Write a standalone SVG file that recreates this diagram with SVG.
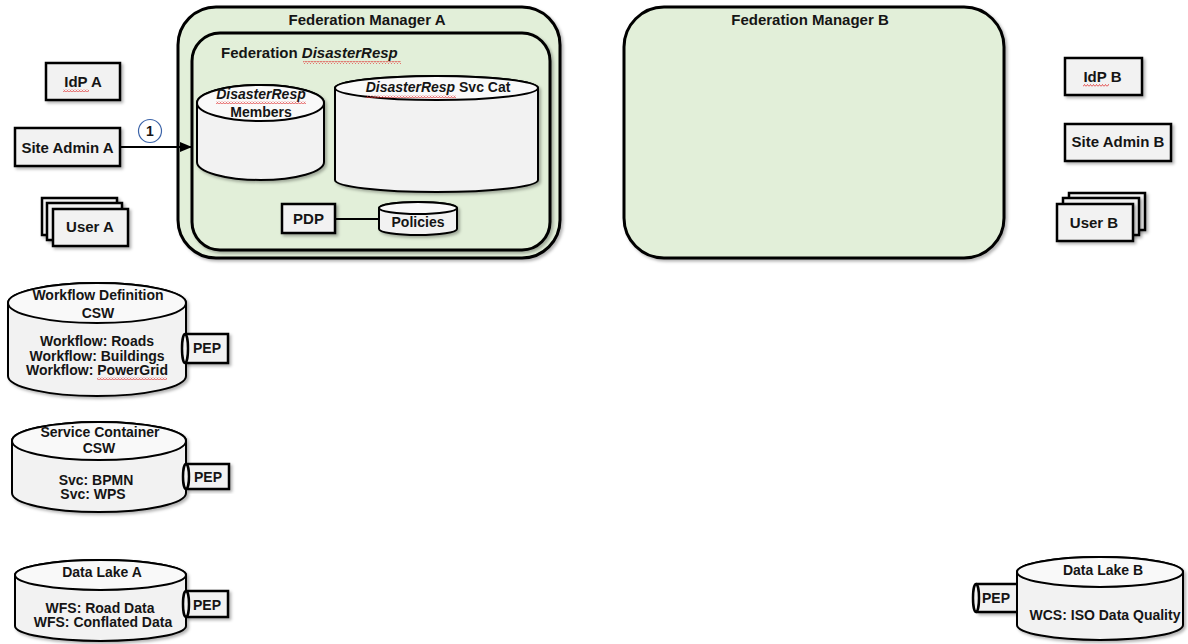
<svg xmlns="http://www.w3.org/2000/svg" width="1188" height="644" viewBox="0 0 1188 644">
  <style>
    text { font-family: "Liberation Sans", Arial, sans-serif; font-weight: bold; fill: #151515; }
    .t15 { font-size: 15px; }
    .t14 { font-size: 14px; }
    .mid { text-anchor: middle; }
    .it { font-style: italic; }
    .mgr { fill: #e2efd9; stroke: #000; stroke-width: 3; }
    .box { fill: #f2f2f2; stroke: #000; stroke-width: 2.5; }
    .cyl { fill: #f2f2f2; stroke: #000; stroke-width: 2; }
    .cap { fill: #f9f9f9; stroke: #000; stroke-width: 2; }
    .wire { stroke: #000; stroke-width: 2; fill: none; }
    .sq { fill: url(#squig); }
  </style>
  <defs>
    <filter id="sh" x="-10%" y="-10%" width="130%" height="130%">
      <feDropShadow dx="2" dy="2" stdDeviation="1.5" flood-color="#000" flood-opacity="0.3"/>
    </filter>
    <marker id="arr" markerWidth="12" markerHeight="10" refX="12" refY="5" orient="auto" markerUnits="userSpaceOnUse">
      <path d="M0,0 L12,5 L0,10 Z" fill="#000"/>
    </marker>
    <pattern id="squig" width="3" height="3" patternUnits="userSpaceOnUse">
      <path d="M0,2.5 L1.5,0.5 L3,2.5" fill="none" stroke="#e03030" stroke-width="0.8"/>
    </pattern>
  </defs>

  <!-- Federation Manager A -->
  <g id="fed-manager-a">
    <rect class="mgr" x="178" y="7" width="382" height="251" rx="38" filter="url(#sh)"/>
    <text class="t15 mid" x="367" y="25">Federation Manager A</text>
  </g>

  <g id="federation-disasterresp">
    <rect class="mgr" x="192" y="33" width="358" height="217" rx="28" filter="url(#sh)"/>
    <text class="t15" x="221" y="58">Federation <tspan class="it">DisasterResp</tspan></text>
    <rect class="sq" x="303" y="61" width="98" height="3"/>
  </g>

  <g id="members">
    <path class="cyl" filter="url(#sh)" d="M197,103 L197,162 A63.5,18 0 0 0 324,162 L324,103 A63.5,18 0 0 0 197,103 Z"/>
    <ellipse class="cap" cx="260.5" cy="103" rx="63.5" ry="18"/>
    <text class="t14 mid it" x="261" y="99">DisasterResp</text>
    <rect class="sq" x="216" y="101" width="90" height="3"/>
    <text class="t14 mid" x="261" y="117">Members</text>
  </g>

  <g id="svc-cat">
    <path class="cyl" filter="url(#sh)" d="M335,88 L335,180 A101.5,12 0 0 0 538,180 L538,88 A101.5,12 0 0 0 335,88 Z"/>
    <ellipse class="cap" cx="436.5" cy="88" rx="101.5" ry="12"/>
    <text class="t14 mid" x="438" y="92"><tspan class="it">DisasterResp</tspan> Svc Cat</text>
    <rect class="sq" x="366" y="95" width="90" height="3"/>
  </g>

  <g id="pdp">
    <rect class="box" x="282" y="204" width="53" height="29" filter="url(#sh)"/>
    <text class="t15 mid" x="308.5" y="224">PDP</text>
  </g>

  <g id="policies">
    <path class="cyl" filter="url(#sh)" d="M379,208 L379,229 A39,6 0 0 0 457,229 L457,208 A39,6 0 0 0 379,208 Z"/>
    <ellipse class="cap" cx="418" cy="208" rx="39" ry="6"/>
    <text class="t14 mid" x="418" y="227">Policies</text>
  </g>

  <!-- Federation Manager B -->
  <g id="fed-manager-b">
    <rect class="mgr" x="624" y="7" width="380" height="251" rx="40" filter="url(#sh)"/>
    <text class="t15 mid" x="810" y="25">Federation Manager B</text>
  </g>

  <!-- Site A actors -->
  <g id="idp-a">
    <rect class="box" x="46" y="63" width="74" height="37" filter="url(#sh)"/>
    <text class="t15 mid" x="83" y="87">IdP A</text>
    <rect class="sq" x="63" y="89" width="26" height="3"/>
  </g>

  <g id="site-admin-a">
    <rect class="box" x="15" y="128" width="105" height="38" filter="url(#sh)"/>
    <text class="t15 mid" x="67.5" y="153">Site Admin A</text>
  </g>

  <g id="user-a">
    <rect class="box" x="42" y="198" width="75" height="37" filter="url(#sh)"/>
    <rect class="box" x="47" y="203" width="75" height="37" filter="url(#sh)"/>
    <rect class="box" x="53" y="209" width="75" height="37" filter="url(#sh)"/>
    <text class="t15 mid" x="90" y="232">User A</text>
  </g>

  <!-- Site B actors -->
  <g id="idp-b">
    <rect class="box" x="1065" y="58" width="77" height="37" filter="url(#sh)"/>
    <text class="t15 mid" x="1102.5" y="82">IdP B</text>
    <rect class="sq" x="1083" y="84" width="26" height="3"/>
  </g>

  <g id="site-admin-b">
    <rect class="box" x="1065" y="124" width="106" height="37" filter="url(#sh)"/>
    <text class="t15 mid" x="1118" y="147">Site Admin B</text>
  </g>

  <g id="user-b">
    <rect class="box" x="1069" y="193" width="76" height="37" filter="url(#sh)"/>
    <rect class="box" x="1063" y="198" width="76" height="37" filter="url(#sh)"/>
    <rect class="box" x="1057" y="204" width="76" height="37" filter="url(#sh)"/>
    <text class="t15 mid" x="1094" y="228">User B</text>
  </g>

  <!-- Site A services -->
  <g id="workflow-csw">
    <path class="cyl" filter="url(#sh)" d="M8,303 L8,376 A89,20 0 0 0 186,376 L186,303 A89,20 0 0 0 8,303 Z"/>
    <ellipse class="cap" cx="97" cy="303" rx="89" ry="20"/>
    <text class="t14 mid" x="98" y="300">Workflow Definition</text>
    <text class="t14 mid" x="98" y="318">CSW</text>
    <text class="t14 mid" x="97" y="346">Workflow: Roads</text>
    <text class="t14 mid" x="97" y="361">Workflow: Buildings</text>
    <text class="t14 mid" x="97" y="375">Workflow: PowerGrid</text>
    <rect class="sq" x="97" y="377" width="70" height="3"/>
  </g>
  <g id="workflow-pep">
    <path class="box" filter="url(#sh)" d="M185,334 H228 V363 H185"/>
    <ellipse class="box" cx="185" cy="348.5" rx="3" ry="14.5"/>
    <text class="t14 mid" x="207" y="353">PEP</text>
  </g>

  <g id="service-container-csw">
    <path class="cyl" filter="url(#sh)" d="M12,441 L12,493 A87,19 0 0 0 186,493 L186,441 A87,19 0 0 0 12,441 Z"/>
    <ellipse class="cap" cx="99" cy="441" rx="87" ry="19"/>
    <text class="t14 mid" x="100" y="437">Service Container</text>
    <text class="t14 mid" x="99" y="453">CSW</text>
    <text class="t14 mid" x="96" y="485">Svc: BPMN</text>
    <text class="t14 mid" x="93" y="499">Svc: WPS</text>
  </g>
  <g id="service-container-pep">
    <path class="box" filter="url(#sh)" d="M186,464 H229 V489 H186"/>
    <ellipse class="box" cx="186" cy="476.5" rx="3" ry="12.5"/>
    <text class="t14 mid" x="208" y="482">PEP</text>
  </g>

  <g id="data-lake-a">
    <path class="cyl" filter="url(#sh)" d="M15,575 L15,626 A85.5,15 0 0 0 186,626 L186,575 A85.5,15 0 0 0 15,575 Z"/>
    <ellipse class="cap" cx="100.5" cy="575" rx="85.5" ry="15"/>
    <text class="t14 mid" x="102" y="577">Data Lake A</text>
    <text class="t14 mid" x="100" y="613">WFS: Road Data</text>
    <text class="t14 mid" x="103" y="627">WFS: Conflated Data</text>
  </g>
  <g id="data-lake-a-pep">
    <path class="box" filter="url(#sh)" d="M186,591 H228 V617 H186"/>
    <ellipse class="box" cx="186" cy="604" rx="3" ry="13"/>
    <text class="t14 mid" x="207" y="610">PEP</text>
  </g>

  <!-- Site B data -->
  <g id="data-lake-b-pep">
    <path class="box" filter="url(#sh)" d="M976,584 H1019 V612 H976"/>
    <ellipse class="box" cx="976" cy="598" rx="3" ry="14"/>
    <text class="t14 mid" x="996" y="603">PEP</text>
  </g>
  <g id="data-lake-b">
    <path class="cyl" filter="url(#sh)" d="M1017,572 L1017,625 A83,15 0 0 0 1183,625 L1183,572 A83,15 0 0 0 1017,572 Z"/>
    <ellipse class="cap" cx="1100" cy="572" rx="83" ry="15"/>
    <text class="t14 mid" x="1103" y="575">Data Lake B</text>
    <text class="t14 mid" x="1105" y="620">WCS: ISO Data Quality</text>
  </g>

  <!-- Connectors -->
  <g id="connectors">
    <line class="wire" x1="120" y1="147" x2="192" y2="147" marker-end="url(#arr)"/>
    <line class="wire" x1="335" y1="219" x2="379" y2="219"/>
    <circle cx="150" cy="131" r="11.5" fill="#fff" stroke="#3b63a8" stroke-width="1.2"/>
    <text class="t14 mid" x="150" y="136">1</text>
  </g>
</svg>
